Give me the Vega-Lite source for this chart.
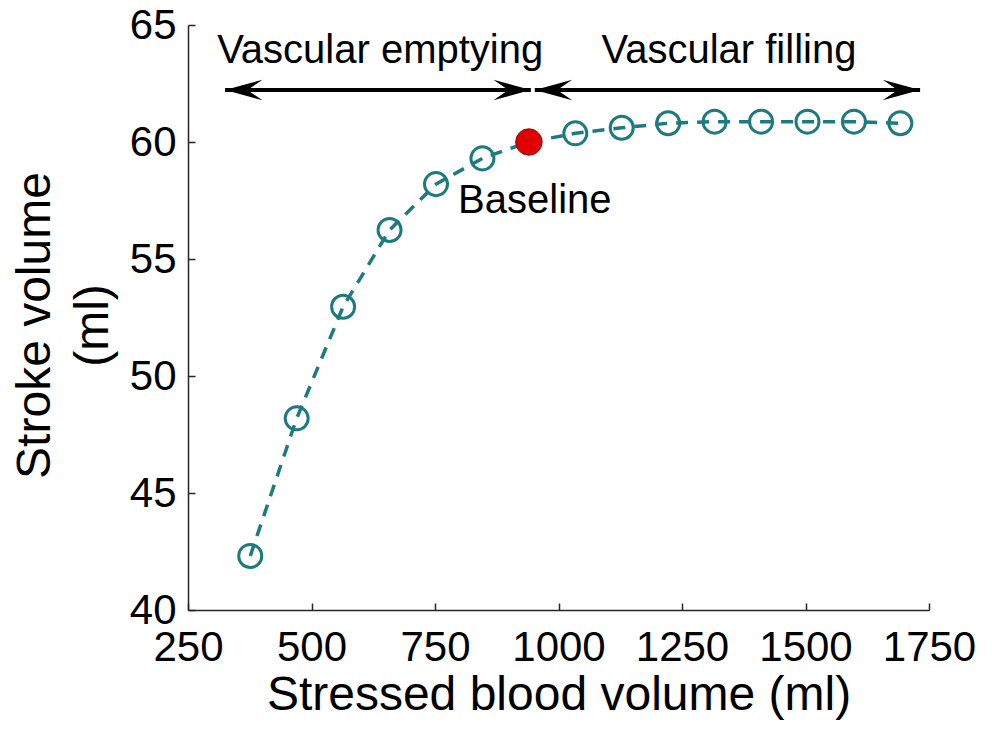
{
  "$schema": "https://vega.github.io/schema/vega-lite/v6.json",
  "width": 741,
  "height": 585,
  "autosize": {"type": "none"},
  "padding": {"left": 188, "top": 25, "right": 63, "bottom": 122},
  "background": "white",
  "config": {
    "view": {"stroke": null},
    "font": "Liberation Sans",
    "axis": {
      "grid": false,
      "domainColor": "#262626",
      "domainWidth": 1.5,
      "tickColor": "#262626",
      "tickWidth": 1.5,
      "tickSize": -7,
      "labelColor": "black",
      "labelFont": "Liberation Sans",
      "labelFontSize": 42,
      "titleColor": "black",
      "titleFont": "Liberation Sans",
      "titleFontSize": 48,
      "titleFontWeight": "normal"
    }
  },
  "datasets": {
    "curve": [
      {"sbv": 376, "sv": 42.31, "state": "perturbed"},
      {"sbv": 470, "sv": 48.19, "state": "perturbed"},
      {"sbv": 564, "sv": 52.96, "state": "perturbed"},
      {"sbv": 658, "sv": 56.24, "state": "perturbed"},
      {"sbv": 752, "sv": 58.2, "state": "perturbed"},
      {"sbv": 846, "sv": 59.3, "state": "perturbed"},
      {"sbv": 940, "sv": 60.0, "state": "baseline"},
      {"sbv": 1034, "sv": 60.37, "state": "perturbed"},
      {"sbv": 1128, "sv": 60.61, "state": "perturbed"},
      {"sbv": 1222, "sv": 60.8, "state": "perturbed"},
      {"sbv": 1316, "sv": 60.87, "state": "perturbed"},
      {"sbv": 1410, "sv": 60.87, "state": "perturbed"},
      {"sbv": 1504, "sv": 60.87, "state": "perturbed"},
      {"sbv": 1598, "sv": 60.87, "state": "perturbed"},
      {"sbv": 1692, "sv": 60.8, "state": "perturbed"}
    ],
    "arrows": [
      {"phase": "Vascular emptying", "from": 325, "to": 944, "level": 62.22},
      {"phase": "Vascular filling", "from": 952, "to": 1732, "level": 62.22}
    ],
    "notes": [
      {"label": "Vascular emptying", "sbv": 639, "sv": 63.38},
      {"label": "Vascular filling", "sbv": 1345, "sv": 63.38},
      {"label": "Baseline", "sbv": 952, "sv": 56.97}
    ]
  },
  "encoding": {
    "x": {
      "field": "sbv",
      "type": "quantitative",
      "scale": {"domain": [250, 1750], "nice": false, "zero": false},
      "axis": {
        "title": "Stressed blood volume (ml)",
        "values": [250, 500, 750, 1000, 1250, 1500, 1750],
        "format": "d",
        "labelPadding": 24,
        "titlePadding": 3,
        "labelFlush": false,
        "labelOverlap": false
      }
    },
    "y": {
      "field": "sv",
      "type": "quantitative",
      "scale": {"domain": [40, 65], "nice": false, "zero": false},
      "axis": {
        "title": ["Stroke volume", "(ml)"],
        "titleLineHeight": 58,
        "titleY": 300,
        "values": [40, 45, 50, 55, 60, 65],
        "labelPadding": 19,
        "titlePadding": 12,
        "labelFlush": false,
        "labelOverlap": false
      }
    }
  },
  "layer": [
    {
      "data": {"name": "curve"},
      "mark": {"type": "line", "color": "#1d7b80", "strokeWidth": 3.5, "strokeDash": [12, 9]}
    },
    {
      "data": {"name": "curve"},
      "transform": [{"filter": "datum.state === 'perturbed'"}],
      "mark": {"type": "point", "shape": "circle", "filled": false, "fill": null, "color": "#1d7b80", "strokeWidth": 3, "size": 530, "opacity": 1}
    },
    {
      "data": {"name": "curve"},
      "transform": [{"filter": "datum.state === 'baseline'"}],
      "mark": {"type": "point", "shape": "circle", "filled": true, "fill": "#e00000", "stroke": "#8a1010", "strokeWidth": 1, "size": 700, "opacity": 1}
    },
    {
      "data": {"name": "arrows"},
      "mark": {"type": "rule", "color": "black", "strokeWidth": 4},
      "encoding": {
        "x": {"field": "from", "type": "quantitative"},
        "x2": {"field": "to"},
        "y": {"field": "level", "type": "quantitative"}
      }
    },
    {
      "data": {"name": "arrows"},
      "mark": {"type": "point", "shape": "M0,0 L2,-0.55 L1.2,0 L2,0.55 Z", "filled": true, "color": "black", "size": 1400, "opacity": 1},
      "encoding": {
        "x": {"field": "from", "type": "quantitative"},
        "y": {"field": "level", "type": "quantitative"}
      }
    },
    {
      "data": {"name": "arrows"},
      "mark": {"type": "point", "shape": "M0,0 L-2,-0.55 L-1.2,0 L-2,0.55 Z", "filled": true, "color": "black", "size": 1400, "opacity": 1},
      "encoding": {
        "x": {"field": "to", "type": "quantitative"},
        "y": {"field": "level", "type": "quantitative"}
      }
    },
    {
      "data": {"name": "notes"},
      "mark": {"type": "text", "font": "Liberation Sans", "fontSize": 40, "color": "black", "align": "center", "baseline": "alphabetic"},
      "encoding": {
        "text": {"field": "label"}
      }
    }
  ]
}
